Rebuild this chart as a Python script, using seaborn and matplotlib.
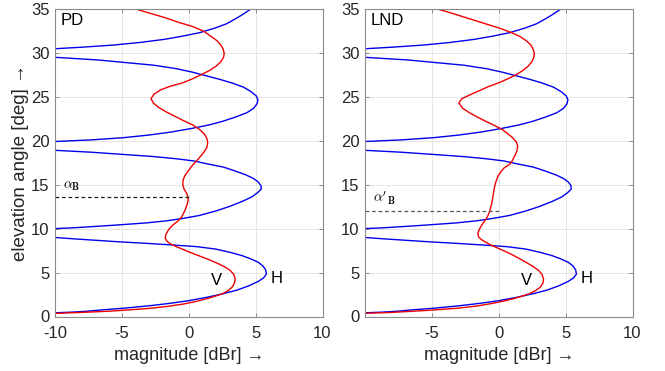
import matplotlib
matplotlib.use("Agg")
import matplotlib.pyplot as plt
import seaborn as sns
import pandas as pd

# ---- data ----
# H polarisation (same in both panels): elevation [deg], magnitude [dBr]
h_elev = [0.40, 0.50, 0.60, 0.74, 0.95, 1.23, 1.50, 1.80, 2.20, 2.57,
          3.00, 3.50, 4.00, 4.40, 4.84, 5.30, 5.75, 6.17, 6.55, 6.92,
          7.30, 7.68, 7.95, 8.14, 8.32, 8.50, 8.68, 8.85, 9.05, 9.20,
          9.55,
          9.80, 9.95, 10.10, 10.25, 10.40, 10.65, 10.90, 11.15, 11.50, 12.00,
          12.50, 13.10, 13.60, 14.10, 14.50, 14.90, 15.30, 15.70, 16.10, 16.60,
          17.00, 17.40, 17.70, 17.95, 18.20, 18.50, 18.70, 18.90, 19.10,
          19.50,
          19.70, 19.90, 20.10, 20.35, 20.65, 21.00, 21.40, 21.80, 22.20, 22.70,
          23.20, 23.70, 24.20, 24.65, 25.10, 25.60, 26.10, 26.60, 27.00, 27.40,
          27.80, 28.20, 28.60, 28.90, 29.20, 29.50, 29.70,
          30.00,
          30.25, 30.45, 30.65, 30.90, 31.20, 31.55, 31.90, 32.30, 32.80, 33.30,
          33.80, 34.30, 34.70, 35.00, 35.30]
h_mag = [-10.3, -8.7, -7.6, -6.6, -4.8, -2.9, -1.4, 0.0, 1.4, 2.5,
         3.6, 4.5, 5.2, 5.6, 5.81, 5.75, 5.55, 5.2, 4.65, 4.0,
         3.1, 2.0, 0.6, -1.2, -3.1, -5.2, -7.0, -8.7, -10.5, -13.0,
         -40.0,
         -14.0, -10.8, -8.6, -7.0, -5.5, -3.2, -1.6, -0.5, 0.8, 2.0,
         3.0, 4.0, 4.7, 5.15, 5.42, 5.40, 5.2, 4.85, 4.3, 3.4,
         2.6, 1.3, 0.4, -0.9, -2.6, -5.4, -7.3, -9.8, -13.0,
         -40.0,
         -14.0, -10.3, -7.3, -4.9, -3.0, -1.3, 0.2, 1.5, 2.5, 3.5,
         4.35, 4.85, 5.1, 5.17, 5.05, 4.65, 4.1, 3.2, 2.3, 1.3,
         0.3, -0.9, -2.6, -4.7, -6.8, -10.0, -12.5,
         -40.0,
         -13.5, -10.3, -8.0, -5.6, -3.6, -1.8, -0.5, 0.8, 1.9, 2.8,
         3.4, 3.95, 4.35, 4.65, 4.85]

# V polarisation, PD panel
v_pd_elev = [0.30, 0.38, 0.48, 0.60, 0.75, 0.93, 1.15, 1.42, 1.70, 2.00,
             2.30, 2.57, 2.95, 3.35, 3.80, 4.27, 4.75, 5.22, 5.60, 5.98,
             6.45, 6.92, 7.30, 7.68, 8.00, 8.25, 8.55, 8.90, 9.30, 9.90,
             10.40, 10.87, 11.30, 11.70, 12.20, 12.77, 13.20, 13.55, 14.00, 14.50,
             15.05, 15.55, 16.00, 16.40, 16.75, 17.10, 17.50, 18.00, 18.60, 19.20,
             19.80, 20.30, 20.80, 21.30, 21.80, 22.30, 22.80, 23.30, 23.80, 24.30,
             24.80, 25.30, 25.80, 26.20, 26.60, 27.00, 27.50, 28.00, 28.50, 29.00,
             29.50, 29.95, 30.40, 30.90, 31.40, 31.90, 32.50, 33.00, 33.50, 34.00,
             34.50, 35.00, 35.30]
v_pd_mag = [-11.0, -9.5, -7.8, -6.0, -4.5, -2.9, -1.6, -0.4, 0.5, 1.3,
            1.95, 2.5, 2.95, 3.25, 3.42, 3.47, 3.38, 3.12, 2.75, 2.25,
            1.55, 0.75, 0.1, -0.5, -1.0, -1.35, -1.62, -1.76, -1.72, -1.5,
            -1.2, -0.8, -0.55, -0.4, -0.25, -0.12, -0.05, -0.05, -0.15, -0.35,
            -0.45, -0.42, -0.3, -0.12, 0.05, 0.22, 0.45, 0.75, 1.08, 1.35,
            1.42, 1.35, 1.15, 0.8, 0.3, -0.4, -1.05, -1.7, -2.25, -2.65,
            -2.82, -2.6, -2.1, -1.4, -0.45, 0.2, 0.9, 1.55, 2.05, 2.4,
            2.6, 2.65, 2.58, 2.4, 2.1, 1.65, 1.08, 0.3, -0.8, -1.75,
            -2.85, -3.98, -4.6]

# V polarisation, LND panel
v_lnd_elev = [0.30, 0.36, 0.46, 0.59, 0.75, 0.97, 1.20, 1.50, 1.75, 2.00,
              2.30, 2.57, 2.95, 3.32, 3.80, 4.25, 4.75, 5.22, 5.60, 5.98,
              6.55, 7.11, 7.50, 7.87, 8.15, 8.44, 8.75, 9.05, 9.40, 9.75,
              10.20, 10.68, 11.10, 11.44, 11.90, 12.40, 12.90, 13.50, 14.20, 14.86,
              15.40, 16.00, 16.50, 16.94, 17.30, 17.70, 18.20, 18.80, 19.40, 19.90,
              20.40, 20.90, 21.30, 21.80, 22.20, 22.70, 23.20, 23.70, 24.30, 24.80,
              25.30, 25.70, 26.15, 26.60, 27.00, 27.50, 28.00, 28.50, 29.00, 29.50,
              29.95, 30.40, 30.90, 31.40, 31.85, 32.30, 32.80, 33.30, 33.80, 34.30,
              34.70, 35.00, 35.30]
v_lnd_mag = [-11.5, -10.0, -8.1, -6.5, -4.8, -2.9, -1.6, -0.45, 0.35, 1.03,
             1.7, 2.25, 2.75, 3.1, 3.3, 3.35, 3.25, 3.0, 2.65, 2.25,
             1.6, 0.9, 0.35, -0.2, -0.6, -0.95, -1.3, -1.5, -1.57, -1.5,
             -1.35, -1.15, -0.95, -0.82, -0.7, -0.6, -0.52, -0.45, -0.38, -0.3,
             -0.2, -0.05, 0.17, 0.42, 0.8, 1.0, 1.17, 1.35, 1.42, 1.3,
             1.0, 0.6, 0.25, -0.4, -0.95, -1.6, -2.2, -2.7, -2.98, -2.75,
             -2.05, -1.45, -0.8, 0.0, 0.6, 1.28, 1.8, 2.2, 2.48, 2.62,
             2.66, 2.58, 2.4, 2.05, 1.6, 0.98, 0.1, -0.95, -2.0, -3.05,
             -3.9, -4.6, -5.2]

# Brewster-angle markers
brewster_pd = 13.6
brewster_lnd = 12.0

panel_names = ["PD", "LND"]
brewster_labels = [r"$\alpha_\mathbf{B}$", r"$\alpha'_\mathbf{B}$"]
x_ticks = [-10, -5, 0, 5, 10]
y_ticks = [0, 5, 10, 15, 20, 25, 30, 35]

# ---- styling ----
sns.set_theme(style="white")
plt.rcParams["font.family"] = ["Liberation Sans", "DejaVu Sans"]
plt.rcParams["mathtext.fontset"] = "cm"
plt.rcParams["axes.unicode_minus"] = False

fig = plt.figure(figsize=(6.65, 3.71), dpi=100)
ax_l = fig.add_axes([55 / 665, 54.5 / 371, 267.5 / 665, 307.5 / 371])
ax_r = fig.add_axes([365 / 665, 54.5 / 371, 267.5 / 665, 307.5 / 371])

text_col = "#262626"
frame_col = "#8a8a8a"

panels = [
    (ax_l, v_pd_elev, v_pd_mag, brewster_pd, "k"),
    (ax_r, v_lnd_elev, v_lnd_mag, brewster_lnd, "#555555"),
]

for i, (ax, ve, vm, ab, dcol) in enumerate(panels):
    dh = pd.DataFrame({"mag": h_mag, "elev": h_elev})
    dv = pd.DataFrame({"mag": vm, "elev": ve})
    sns.lineplot(data=dh, x="mag", y="elev", sort=False, estimator=None,
                 color="#0000ee", lw=1.0, ax=ax)
    sns.lineplot(data=dv, x="mag", y="elev", sort=False, estimator=None,
                 color="#ee0000", lw=1.0, ax=ax)
    ax.plot([-10, 0], [ab, ab], ls=(0, (3, 2.2)), color=dcol, lw=0.9)

    ax.set_xlim(-10, 10)
    ax.set_ylim(0, 35)
    ax.set_xticks(x_ticks)
    ax.set_yticks(y_ticks)
    if i == 1:
        ax.set_xticklabels(["", "-5", "0", "5", "10"])
    ax.grid(True, color="#e6e6e6", lw=0.7)
    ax.set_axisbelow(True)
    for sp in ax.spines.values():
        sp.set_color(frame_col)
        sp.set_linewidth(0.8)
    ax.tick_params(direction="in", length=3, width=0.7, color=frame_col,
                   labelsize=12, labelcolor=text_col, top=True, right=True,
                   bottom=True, left=True)
    ax.tick_params(axis="x", pad=7)
    ax.tick_params(axis="y", pad=4)
    ax.set_xlabel("magnitude [dBr] \u2192", fontsize=13, color=text_col, labelpad=4)
    if i == 0:
        ax.set_ylabel("elevation angle [deg] \u2192", fontsize=13.5, color=text_col, labelpad=1)
    else:
        ax.set_ylabel("")

    ax.text(-9.6, 34.6, panel_names[i], fontsize=12, color="black", ha="left", va="top")
    ax.text(2.05, 4.15, "V", fontsize=12, color="black", ha="center", va="center")
    ax.text(6.6, 4.35, "H", fontsize=12, color="black", ha="center", va="center")
    ax.text(-9.4, ab + 0.45, brewster_labels[i], fontsize=10, color="black",
            ha="left", va="bottom")

fig.savefig("out.png", dpi=100)
